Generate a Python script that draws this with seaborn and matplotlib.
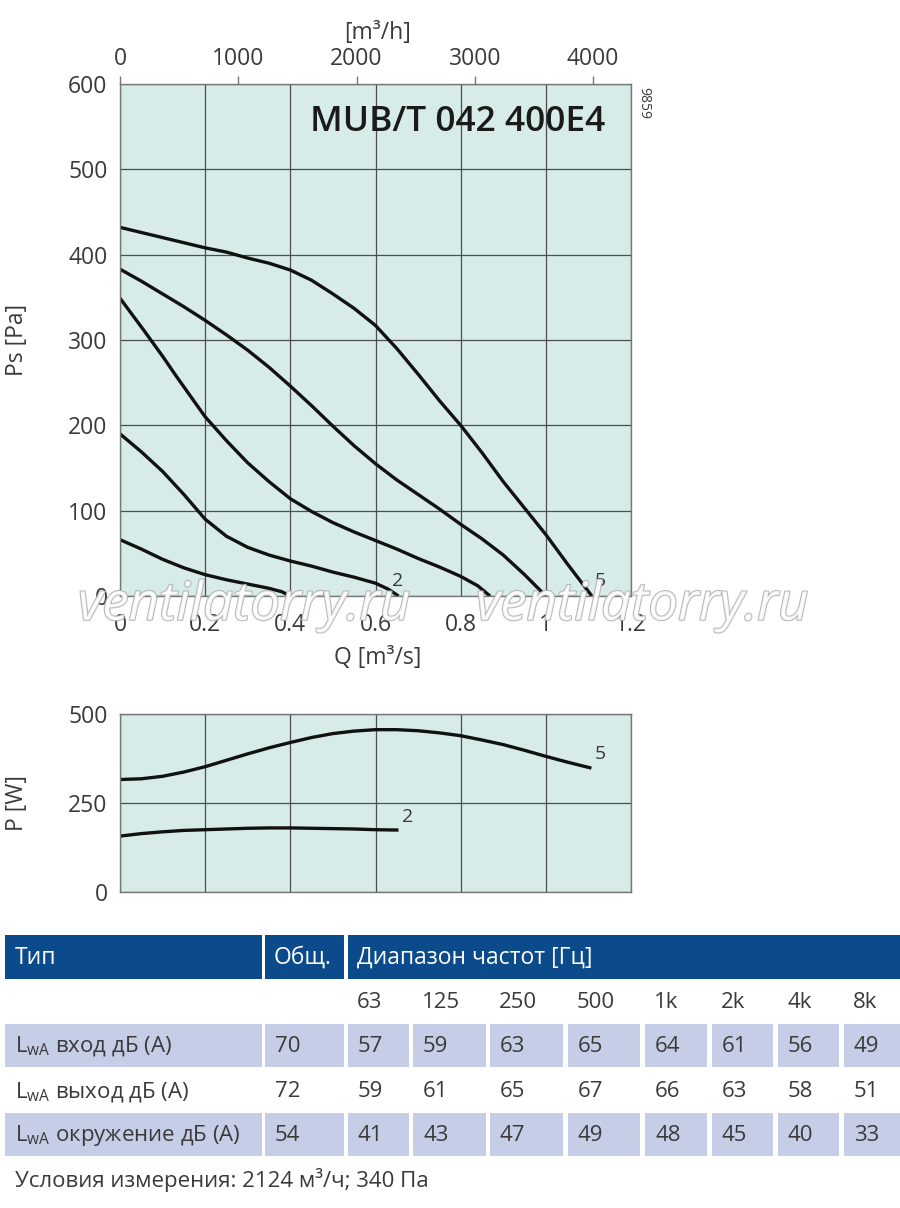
import matplotlib
matplotlib.use('Agg')
import matplotlib.pyplot as plt
import matplotlib.patheffects as pe
from matplotlib.patches import Rectangle
import numpy as np
import pandas as pd
import seaborn as sns

# Ps curves, Q [m3/s] -> Ps [Pa]
q1 = [0, 0.05, 0.1, 0.15, 0.2, 0.25, 0.3, 0.35, 0.38, 0.40]
ps1 = [66, 55, 43, 33, 25, 19, 14, 9, 5, 0]
q2 = [0, 0.05, 0.1, 0.15, 0.2, 0.25, 0.3, 0.35, 0.4, 0.45, 0.5, 0.55, 0.6, 0.63, 0.654]
ps2 = [190, 169, 146, 119, 90, 70, 57, 48, 41, 35, 28, 22, 15, 8, 0]
q3 = [0, 0.055, 0.1, 0.133, 0.2, 0.25, 0.3, 0.35, 0.4, 0.45, 0.5, 0.55, 0.6,
      0.65, 0.7, 0.75, 0.8, 0.84, 0.869]
ps3 = [349, 312, 281, 257, 210, 182, 156, 134, 114, 99, 86, 75, 65,
       55, 44, 34, 23, 12, 0]
q4 = [0, 0.05, 0.1, 0.15, 0.2, 0.25, 0.3, 0.35, 0.4, 0.45, 0.5, 0.55, 0.6, 0.65,
      0.7, 0.75, 0.8, 0.85, 0.9, 0.95, 1.0]
ps4 = [383, 369, 354, 339, 323, 306, 288, 268, 246, 223, 199, 176, 155, 136,
       119, 102, 84, 67, 48, 25, 0]
q5 = [0, 0.05, 0.1, 0.15, 0.2, 0.25, 0.3, 0.35, 0.4, 0.45, 0.5, 0.55, 0.6, 0.65,
      0.7, 0.75, 0.8, 0.85, 0.9, 0.95, 1.0, 1.05, 1.108]
ps5 = [432, 426, 420, 414, 408, 403, 396, 390, 382, 370, 354, 337, 317, 290,
       260, 229, 200, 168, 134, 103, 72, 38, 0]

# power curves, Q [m3/s] -> P [W]
qp2 = [0, 0.05, 0.1, 0.15, 0.2, 0.25, 0.3, 0.35, 0.4, 0.45, 0.5, 0.55, 0.6, 0.654]
pw2 = [157, 164, 169, 173, 175, 177, 179, 180, 180, 179, 178, 177, 175, 174]
qp5 = [0, 0.05, 0.1, 0.15, 0.2, 0.25, 0.3, 0.35, 0.4, 0.45, 0.5, 0.55, 0.6, 0.65,
       0.7, 0.75, 0.8, 0.85, 0.9, 0.95, 1.0, 1.05, 1.107]
pw5 = [316, 318, 325, 337, 352, 370, 388, 405, 420, 434, 445, 452, 456, 456,
       453, 447, 439, 427, 414, 398, 381, 365, 348]

# sound table
freqs = ['63', '125', '250', '500', '1k', '2k', '4k', '8k']
row_names = ['вход дБ (A)', 'выход дБ (A)', 'окружение дБ (A)']
totals = [70, 72, 54]
inlet = [57, 59, 63, 65, 64, 61, 56, 49]
outlet = [59, 61, 65, 67, 66, 63, 58, 51]
surround = [41, 43, 47, 49, 48, 45, 40, 33]

sns.set_style('white')
plt.rcParams['font.family'] = ['Open Sans', 'DejaVu Sans']
plt.rcParams['mathtext.default'] = 'regular'
plt.rcParams['lines.solid_joinstyle'] = 'round'
plt.rcParams['lines.solid_capstyle'] = 'butt'

TXT = '#3a3a3a'
BG = '#d7ebe9'
GRID = '#4d4d4d'
BLUE = '#0b4a8b'
SHADE = '#c5cee6'
FS = 16.5

ps_df = pd.concat([
    pd.DataFrame({'Q': q, 'Ps': p, 'curve': i})
    for i, (q, p) in enumerate([(q1, ps1), (q2, ps2), (q3, ps3), (q4, ps4), (q5, ps5)], 1)
])
pw_df = pd.concat([
    pd.DataFrame({'Q': q, 'P': p, 'curve': i})
    for i, (q, p) in zip([2, 5], [(qp2, pw2), (qp5, pw5)])
])

fig = plt.figure(figsize=(9, 12.08), dpi=100)

# table canvas in pixel coordinates
tab = fig.add_axes([0, 0, 1, 1])
tab.set_xlim(0, 900)
tab.set_ylim(1208, 0)
tab.axis('off')


def style_axes(ax):
    ax.set_facecolor(BG)
    ax.set_xlim(0, 1.2)
    ax.set_xticks(np.arange(0, 1.21, 0.2))
    ax.grid(True, color=GRID, lw=0.9)
    for s in ax.spines.values():
        s.set_color('#777777')
        s.set_linewidth(1.0)
    ax.tick_params(axis='both', direction='out', length=6, width=1.0,
                   color='#777777', labelcolor=TXT, labelsize=FS)
    ax.tick_params(axis='x', pad=6)
    ax.tick_params(axis='y', pad=3)


ax1 = fig.add_axes([120 / 900, 1 - 596 / 1208, 511 / 900, 512 / 1208])
style_axes(ax1)
sns.lineplot(data=ps_df, x='Q', y='Ps', hue='curve', palette=['#111111'] * 5,
             sort=False, estimator=None, legend=False, lw=2.4, ax=ax1)
ax1.set_ylim(0, 600)
ax1.set_yticks(range(0, 601, 100))
ax1.set_xticklabels(['0', '0.2', '0.4', '0.6', '0.8', '1', '1.2'])
ax1.set_xlabel('Q [m³/s]', fontsize=FS, color=TXT)
ax1.set_ylabel('Ps [Pa]', fontsize=FS, color=TXT)
ax1.xaxis.set_label_coords(0.505, -0.097)
ax1.yaxis.set_label_coords(-0.178, 0.5)
ax1.text(0.95, 0.925, 'MUB/T 042 400E4', transform=ax1.transAxes, ha='right', va='center',
         fontsize=25.5, fontweight='semibold', color='#1a1a1a')
ax1.text(0.653, 17, '2', ha='center', va='center', fontsize=14, color=TXT)
ax1.text(1.128, 18, '5', ha='center', va='center', fontsize=14, color=TXT)

top = ax1.secondary_xaxis('top', functions=(lambda q: q * 3600, lambda v: v / 3600))
top.set_xticks([0, 1000, 2000, 3000, 4000])
top.tick_params(direction='out', length=6, width=1.0, color='#777777',
                labelcolor=TXT, labelsize=FS, pad=3)
top.spines['top'].set_visible(False)
ax1.text(0.505, 1.1, '[m³/h]', transform=ax1.transAxes, ha='center', va='center',
         fontsize=FS, color=TXT)
fig.text(644 / 900, 1 - 103 / 1208, '9859', rotation=-90, ha='center', va='center',
         fontsize=10, color=TXT)

ax2 = fig.add_axes([120 / 900, 1 - 892 / 1208, 511 / 900, 178 / 1208])
style_axes(ax2)
sns.lineplot(data=pw_df, x='Q', y='P', hue='curve', palette=['#111111'] * 2,
             sort=False, estimator=None, legend=False, lw=2.4, ax=ax2)
ax2.set_ylim(0, 500)
ax2.set_yticks([0, 250, 500])
ax2.set_xticklabels([])
ax2.set_xlabel('')
ax2.set_ylabel('P [W]', fontsize=FS, color=TXT)
ax2.yaxis.set_label_coords(-0.178, 0.5)
ax2.text(1.127, 388, '5', ha='center', va='center', fontsize=14, color=TXT)
ax2.text(0.676, 211, '2', ha='center', va='center', fontsize=14, color=TXT)

# watermark
for wx in (78, 476):
    fig.text(wx / 900, 1 - 606 / 1208, 'ventilatorry.ru', ha='left', va='center',
             fontsize=38, style='italic', color='white', alpha=0.85,
             path_effects=[pe.withStroke(linewidth=1.6, foreground='#b0b0b0')])

# table
label_cell = (5, 262)
total_cell = (265, 344)
freq_cells = [(348, 409), (413, 486), (490, 563), (568, 640),
              (645, 707), (712, 773), (778, 839), (844, 900)]
TS = 16


def cell(x0, x1, y0, y1, color):
    tab.add_patch(Rectangle((x0, y0), x1 - x0, y1 - y0, color=color, lw=0))


# header
cell(5, 262, 935, 979, BLUE)
cell(265, 344, 935, 979, BLUE)
cell(348, 900, 935, 979, BLUE)
tab.text(15, 958, 'Тип', color='white', fontsize=TS + 0.5, va='center')
tab.text(274, 958, 'Общ.', color='white', fontsize=TS + 0.5, va='center')
tab.text(357, 958, 'Диапазон частот [Гц]', color='white', fontsize=TS + 0.5, va='center')

for (x0, x1), f in zip(freq_cells, freqs):
    tab.text(x0 + 9, 1003, f, color=TXT, fontsize=TS, va='center')

rows = [inlet, outlet, surround]
row_y = [(1024, 1067), (1070, 1111), (1113, 1156)]
for r, (name, tot, vals, (y0, y1)) in enumerate(zip(row_names, totals, rows, row_y)):
    yc = (y0 + y1) / 2 + 1
    if r != 1:
        cell(*label_cell, y0, y1, SHADE)
        cell(*total_cell, y0, y1, SHADE)
        for x0, x1 in freq_cells:
            cell(x0, x1, y0, y1, SHADE)
    tab.text(15, yc, 'L$_{\\mathregular{wA}}$ ' + name, color=TXT, fontsize=TS, va='center')
    tab.text(275, yc, str(tot), color=TXT, fontsize=TS, va='center')
    for (x0, x1), v in zip(freq_cells, vals):
        tab.text(x0 + 10, yc, str(v), color=TXT, fontsize=TS, va='center')

tab.text(15, 1180, 'Условия измерения: 2124 м³/ч; 340 Па', color=TXT, fontsize=TS, va='center')

fig.savefig('out.png', dpi=100)
